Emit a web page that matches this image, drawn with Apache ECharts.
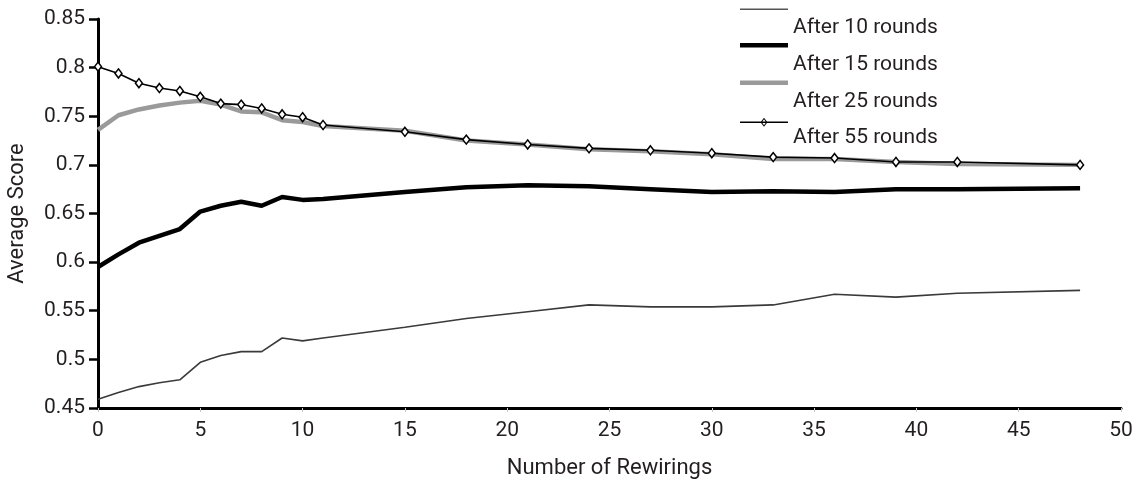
<!DOCTYPE html>
<html>
<head>
<meta charset="utf-8">
<script src="https://cdn.jsdelivr.net/npm/echarts@6/dist/echarts.min.js"></script>
<style>
html,body{margin:0;padding:0;background:#fff;}
#c{width:1141px;height:481px;}
</style>
</head>
<body>
<div id="c"></div>
<script>
const rewirings = [0,1,2,3,4,5,6,7,8,9,10,11,15,18,21,24,27,30,33,36,39,42,48];
const after10 = [0.459,0.466,0.472,0.476,0.479,0.497,0.504,0.508,0.508,0.522,0.519,0.522,0.533,0.542,0.549,0.556,0.554,0.554,0.556,0.567,0.564,0.568,0.571];
const after15 = [0.595,0.608,0.620,0.627,0.634,0.652,0.658,0.662,0.658,0.667,0.664,0.665,0.672,0.677,0.679,0.678,0.675,0.672,0.673,0.672,0.675,0.675,0.676];
const after25 = [0.736,0.751,0.757,0.761,0.764,0.766,0.762,0.755,0.754,0.746,0.744,0.740,0.735,0.725,0.721,0.716,0.714,0.711,0.706,0.706,0.703,0.701,0.700];
const after55 = [0.801,0.794,0.784,0.779,0.776,0.770,0.763,0.762,0.758,0.752,0.749,0.741,0.734,0.726,0.721,0.717,0.715,0.712,0.708,0.707,0.703,0.703,0.700];
const seriesNames = ['After 10 rounds','After 15 rounds','After 25 rounds','After 55 rounds'];

const pairs = arr => rewirings.map((x, i) => [x, arr[i]]);
const txt = '#231f20';
const font = 'Roboto';

// legend icon shapes (line samples; the last one carries a hollow diamond)
const iconThin = 'path://M0,0H48V1.6H0Z';
const iconThick = 'path://M0,0H48V4.5H0Z';
const iconMarker = 'path://M0,-0.8H48V0.8H0Z M24,-4.5L27.5,0L24,4.5L20.5,0Z M24,-3L21.8,0L24,3L26.2,0Z';

const chart = echarts.init(document.getElementById('c'), null, {renderer: 'canvas'});
chart.setOption({
  animation: false,
  backgroundColor: '#fff',
  grid: {left: 98, right: 20, top: 19, bottom: 73, containLabel: false, outerBoundsMode: 'none'},
  legend: [
    {
      // icons
      orient: 'vertical',
      left: 740,
      top: 8.5,
      padding: 0,
      itemWidth: 48,
      itemHeight: 10,
      itemGap: 32.9,
      formatter: () => '',
      textStyle: {fontSize: 1, lineHeight: 1},
      data: [
        {name: seriesNames[0], icon: iconThin, itemStyle: {color: '#555', borderWidth: 0}},
        {name: seriesNames[1], icon: iconThick, itemStyle: {color: '#000', borderWidth: 0}},
        {name: seriesNames[2], icon: iconThick, itemStyle: {color: '#9a9a9a', borderWidth: 0}},
        {name: seriesNames[3], icon: iconMarker, itemStyle: {color: '#000', borderWidth: 0}}
      ]
    },
    {
      // texts
      orient: 'vertical',
      left: 787,
      top: 17,
      padding: 0,
      itemWidth: 0,
      itemHeight: 0,
      itemGap: 14.7,
      textStyle: {color: txt, fontFamily: font, fontSize: 21, lineHeight: 22},
      data: seriesNames.map(n => ({name: n, icon: 'rect', itemStyle: {opacity: 0}}))
    }
  ],
  xAxis: {
    type: 'value',
    min: 0, max: 50, interval: 5,
    name: 'Number of Rewirings',
    nameLocation: 'middle',
    nameGap: 49,
    nameTextStyle: {color: txt, fontFamily: font, fontSize: 22},
    axisLine: {show: true, onZero: false, lineStyle: {color: '#000', width: 3}},
    axisTick: {show: true, length: 4, lineStyle: {color: '#c8c8c8', width: 1}},
    axisLabel: {color: txt, fontFamily: font, fontSize: 21, margin: 12},
    splitLine: {show: false}
  },
  yAxis: {
    type: 'value',
    min: 0.45, max: 0.85, interval: 0.05,
    name: 'Average Score',
    nameLocation: 'middle',
    nameGap: 70,
    nameTextStyle: {color: txt, fontFamily: font, fontSize: 22},
    axisLine: {show: true, lineStyle: {color: '#000', width: 3}},
    axisTick: {show: true, length: 9, lineStyle: {color: '#000', width: 2.5}},
    axisLabel: {color: txt, fontFamily: font, fontSize: 21, margin: 13},
    splitLine: {show: false}
  },
  series: [
    {
      name: seriesNames[0], type: 'line', data: pairs(after10),
      showSymbol: false, symbol: 'none',
      lineStyle: {color: '#3a3a3a', width: 1.6},
      itemStyle: {color: '#3a3a3a'}, z: 2
    },
    {
      name: seriesNames[1], type: 'line', data: pairs(after15),
      showSymbol: false, symbol: 'none',
      lineStyle: {color: '#000', width: 4.5},
      itemStyle: {color: '#000'}, z: 3
    },
    {
      name: seriesNames[2], type: 'line', data: pairs(after25),
      showSymbol: false, symbol: 'none',
      lineStyle: {color: '#9a9a9a', width: 4.5},
      itemStyle: {color: '#9a9a9a'}, z: 4
    },
    {
      name: seriesNames[3], type: 'line', data: pairs(after55),
      symbol: 'diamond', symbolSize: [7, 9], showSymbol: true,
      lineStyle: {color: '#000', width: 1.6},
      itemStyle: {color: '#fff', borderColor: '#000', borderWidth: 1.5}, z: 5
    }
  ]
});
</script>
</body>
</html>
